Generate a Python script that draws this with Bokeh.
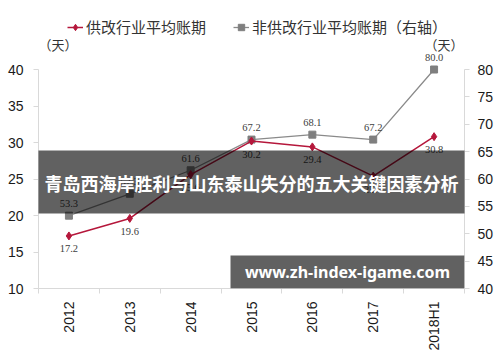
from math import pi
from bokeh.plotting import figure
from bokeh.models import (Range1d, LinearAxis, FixedTicker, ColumnDataSource, LabelSet,
                          Label, Legend, LegendItem, BoxAnnotation)
from bokeh.embed import file_html
from bokeh.resources import INLINE

categories = ["2012", "2013", "2014", "2015", "2016", "2017", "2018H1"]
supply_reform = [17.2, 19.6, 25.6, 30.2, 29.4, 25.4, 30.8]
non_supply_reform = [53.3, 57.3, 61.6, 67.2, 68.1, 67.2, 80.0]
left_ticks = [10, 15, 20, 25, 30, 35, 40]
right_ticks = [40, 45, 50, 55, 60, 65, 70, 75, 80]
series_names = ["供改行业平均账期", "非供改行业平均账期（右轴）"]
unit_label = "（天）"
banner_text = "青岛西海岸胜利与山东泰山失分的五大关键因素分析"
watermark_text = "www.zh-index-igame.com"

RED = "#b5173b"
GREY = "#8a8a8a"
AXIS = "#d9d9d9"
TXT = "#404040"

# plot frame: 38..464 px wide, 8..288 px tall; the axes themselves span 69..288 px
FRAME_H = 280
AXIS_H = 219
left_lo, left_hi = left_ticks[0], left_ticks[-1]
right_lo, right_hi = right_ticks[0], right_ticks[-1]
left_top = left_lo + (left_hi - left_lo) * FRAME_H / AXIS_H
right_top = right_lo + (right_hi - right_lo) * FRAME_H / AXIS_H

xs = list(range(len(categories)))
src = ColumnDataSource(dict(
    x=xs, a=supply_reform, b=non_supply_reform,
    la=[f"{v:.1f}" for v in supply_reform],
    lb=[f"{v:.1f}" for v in non_supply_reform],
))

p = figure(width=500, height=362, output_backend="svg", toolbar_location=None,
           x_range=Range1d(-0.5, len(categories) - 0.5), y_range=Range1d(left_lo, left_top),
           min_border_left=38, min_border_right=36, min_border_top=8, min_border_bottom=74,
           x_axis_type=None, y_axis_type=None)
p.extra_y_ranges = {"right": Range1d(right_lo, right_top)}
p.outline_line_color = None
p.background_fill_color = "white"
p.border_fill_color = "white"

def style_axis(ax):
    ax.axis_line_color = AXIS
    ax.major_tick_line_color = AXIS
    ax.minor_tick_line_color = AXIS
    ax.major_tick_in = 0
    ax.minor_tick_in = 0
    ax.major_label_text_font = "Liberation Sans"
    ax.major_label_text_font_size = "14px"
    ax.major_label_text_color = "#1a1a1a"

xax = LinearAxis(ticker=FixedTicker(ticks=xs, minor_ticks=[i - 0.5 for i in range(len(categories) + 1)]))
style_axis(xax)
xax.major_tick_out = 0
xax.minor_tick_out = 5
xax.major_label_overrides = {i: c for i, c in enumerate(categories)}
xax.major_label_orientation = pi / 2
xax.major_label_standoff = 8
p.add_layout(xax, "below")

lax = LinearAxis(ticker=FixedTicker(ticks=left_ticks, minor_ticks=[]), bounds=(left_lo, left_hi))
style_axis(lax)
lax.major_tick_out = 5
lax.major_label_standoff = 10
p.add_layout(lax, "left")

rax = LinearAxis(y_range_name="right", ticker=FixedTicker(ticks=right_ticks, minor_ticks=[]),
                 bounds=(right_lo, right_hi))
style_axis(rax)
rax.major_tick_out = 5
rax.major_label_standoff = 8
p.add_layout(rax, "right")

rl_b = p.line("x", "b", source=src, y_range_name="right", color=GREY, line_width=1.3)
rm_b = p.scatter("x", "b", source=src, y_range_name="right", marker="square", size=7,
                 fill_color="#7f7f7f", line_color="#7f7f7f")
rl_a = p.line("x", "a", source=src, color=RED, line_width=1.5)
rm_a = p.scatter("x", "a", source=src, marker="diamond", size=8, fill_color=RED, line_color=RED)

lab_a = LabelSet(x="x", y="a", text="la", source=src, y_offset=-13, text_align="center",
                 text_baseline="middle", text_font="Noto Sans", text_font_size="10.5px",
                 text_color=TXT)
lab_b = LabelSet(x="x", y="b", text="lb", source=src, y_range_name="right", y_offset=12,
                 text_align="center", text_baseline="middle", text_font="Noto Sans",
                 text_font_size="10.5px", text_color=TXT)
p.add_layout(lab_a)
p.add_layout(lab_b)

legend = Legend(items=[LegendItem(label=series_names[0], renderers=[rl_a, rm_a]),
                       LegendItem(label=series_names[1], renderers=[rl_b, rm_b])],
                orientation="horizontal", location=(29, 251))
legend.border_line_color = None
legend.background_fill_alpha = 0
legend.label_text_font = "Noto Sans CJK SC"
legend.label_text_font_size = "15px"
legend.label_text_color = "#333333"
legend.glyph_width = 16
legend.glyph_height = 16
legend.label_height = 16
legend.label_standoff = 3
legend.spacing = 27
legend.padding = 0
legend.margin = 0
p.add_layout(legend)

# unit captions above the two value axes
p.add_layout(Label(x=0, y=244, x_units="screen", y_units="screen", text=unit_label,
                   text_align="left", text_baseline="middle", text_font="Noto Sans CJK SC",
                   text_font_size="13px", text_color="#333333"))
p.add_layout(Label(x=425, y=244, x_units="screen", y_units="screen", text=unit_label,
                   text_align="right", text_baseline="middle", text_font="Noto Sans CJK SC",
                   text_font_size="13px", text_color="#333333"))

# banner over the plot area
p.add_layout(BoxAnnotation(left=-30, right=455, bottom=75, top=138,
                           left_units="screen", right_units="screen",
                           bottom_units="screen", top_units="screen",
                           fill_color="black", fill_alpha=0.62, line_color=None,
                           level="overlay"))
p.add_layout(Label(x=213, y=106, x_units="screen", y_units="screen", text=banner_text,
                   text_align="center", text_baseline="middle", text_color="white",
                   text_font="Noto Sans CJK SC", text_font_style="bold",
                   text_font_size="18px", level="overlay"))

# watermark box in the lower right corner
p.add_layout(BoxAnnotation(left=192, right=426, bottom=0, top=33,
                           left_units="screen", right_units="screen",
                           bottom_units="screen", top_units="screen",
                           fill_color="black", fill_alpha=0.62, line_color=None,
                           level="overlay"))
p.add_layout(Label(x=309, y=16.5, x_units="screen", y_units="screen", text=watermark_text,
                   text_align="center", text_baseline="middle", text_color="white",
                   text_font="Noto Sans", text_font_style="bold",
                   text_font_size="16px", level="overlay"))

open("out.html", "w").write(file_html(p, INLINE))
